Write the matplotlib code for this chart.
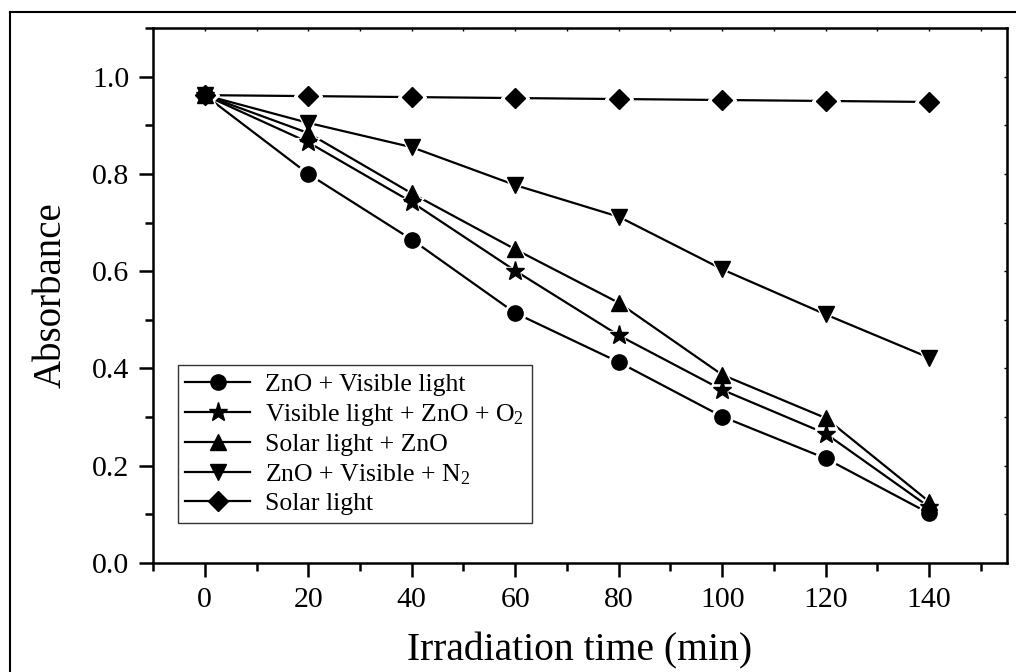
import matplotlib
matplotlib.use('Agg')
import matplotlib.pyplot as plt
from matplotlib.lines import Line2D
from matplotlib.ticker import MultipleLocator

plt.rcParams['font.family'] = ['Liberation Serif', 'DejaVu Serif']
plt.rcParams['mathtext.fontset'] = 'custom'
plt.rcParams['mathtext.rm'] = 'Liberation Serif'
plt.rcParams['mathtext.it'] = 'Liberation Serif:italic'

# data
time = [0, 20, 40, 60, 80, 100, 120, 140]
zno_visible = [0.962, 0.800, 0.665, 0.514, 0.413, 0.301, 0.215, 0.102]
visible_zno_o2 = [0.962, 0.865, 0.742, 0.601, 0.468, 0.356, 0.266, 0.115]
solar_zno = [0.962, 0.884, 0.760, 0.645, 0.535, 0.387, 0.298, 0.126]
zno_visible_n2 = [0.962, 0.905, 0.855, 0.777, 0.712, 0.604, 0.511, 0.422]
solar_only = [0.962, 0.960, 0.958, 0.956, 0.954, 0.952, 0.950, 0.948]

series = [
    (zno_visible, 'o', 11, 'ZnO + Visible light'),
    (visible_zno_o2, '*', 14, 'Visible light + ZnO + O$_2$'),
    (solar_zno, '^', 12, 'Solar light + ZnO'),
    (zno_visible_n2, 'v', 12, 'ZnO + Visible + N$_2$'),
    (solar_only, 'D', 10, 'Solar light'),
]

fig = plt.figure(figsize=(10.16, 6.72), dpi=100)
ax = fig.add_axes([0.1506, 0.1622, 0.8404, 0.7961])

handles = []
for ys, mk, ms, lab in series:
    ax.plot(time, ys, '-', color='black', lw=1.6, zorder=2)
    # white halo so the line breaks around each marker
    ax.plot(time, ys, linestyle='none', marker=mk, ms=ms + 4, color='white',
            mec='white', zorder=3)
    ax.plot(time, ys, linestyle='none', marker=mk, ms=ms, color='black',
            mec='black', zorder=4)
    handles.append(Line2D([], [], color='black', lw=1.6, marker=mk, ms=ms,
                          label=lab))

ax.set_xlim(-10, 155)
ax.set_ylim(0, 1.1)
ax.xaxis.set_major_locator(MultipleLocator(20))
ax.xaxis.set_minor_locator(MultipleLocator(10))
ax.yaxis.set_major_locator(MultipleLocator(0.2))
ax.yaxis.set_minor_locator(MultipleLocator(0.1))
ax.set_xticks([0, 20, 40, 60, 80, 100, 120, 140])
ax.set_yticks([0.0, 0.2, 0.4, 0.6, 0.8, 1.0])
ax.yaxis.set_major_formatter(plt.FormatStrFormatter('%.1f'))

ax.tick_params(which='major', direction='out', length=10, width=1.8,
               labelsize=21.5, pad=7)
ax.tick_params(which='minor', direction='out', length=6, width=1.8)
for s in ax.spines.values():
    s.set_linewidth(1.8)

# small inward ticks on top and right
sec_x = ax.secondary_xaxis('top')
sec_x.xaxis.set_major_locator(MultipleLocator(10))
sec_x.tick_params(direction='in', length=2, width=1, labeltop=False)
sec_y = ax.secondary_yaxis('right')
sec_y.yaxis.set_major_locator(MultipleLocator(0.1))
sec_y.tick_params(direction='in', length=2, width=1, labelright=False)

ax.set_xlabel('Irradiation time (min)', fontsize=28.5, labelpad=14)
ax.set_ylabel('Absorbance', fontsize=28, labelpad=16)

leg = ax.legend(handles=handles, loc='lower left',
                bbox_to_anchor=(0.029, 0.075), borderaxespad=0,
                fontsize=18.5, frameon=True, fancybox=False,
                edgecolor='black', handlelength=2.5, handletextpad=0.6,
                labelspacing=0.22, borderpad=0.3)
leg.get_frame().set_linewidth(1.0)

# outer frame of the picture (left and top edges)
fig.add_artist(Line2D([10 / 1016, 10 / 1016], [0, 1 - 12 / 672],
                      transform=fig.transFigure, color='black', lw=1.5))
fig.add_artist(Line2D([10 / 1016, 1], [1 - 12 / 672, 1 - 12 / 672],
                      transform=fig.transFigure, color='black', lw=1.5))

fig.savefig('out.png', dpi=100)
